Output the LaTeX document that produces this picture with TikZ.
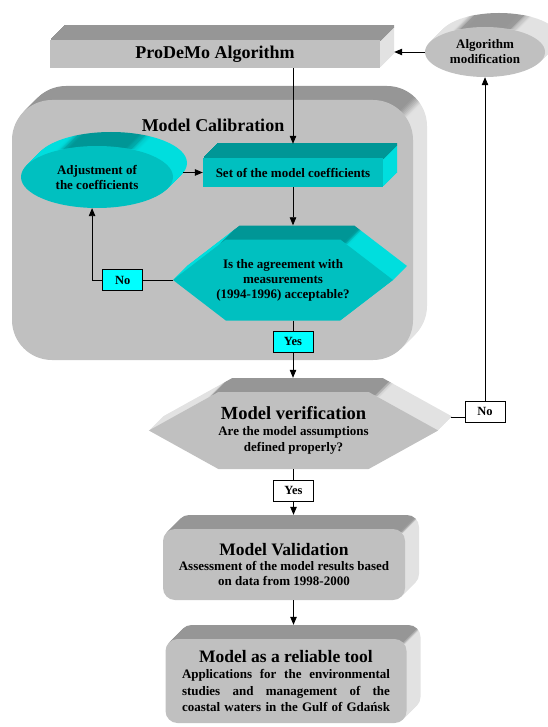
\documentclass[tikz,border=0pt]{standalone}
\usepackage{fontspec}
\setmainfont{Liberation Serif}
\usetikzlibrary{shapes.geometric, shapes.symbols, arrows.meta, positioning}

\definecolor{greyfront}{RGB}{192,192,192}
\definecolor{greytop}{RGB}{150,150,150}
\definecolor{greyside}{RGB}{226,226,226}
\definecolor{tealfront}{RGB}{0,192,192}
\definecolor{tealtop}{RGB}{0,150,150}
\definecolor{tealside}{RGB}{0,222,222}
\definecolor{labcyan}{RGB}{0,255,255}

\pgfdeclareverticalshading{greydepth}{100bp}{color(0bp)=(greyside); color(71.5bp)=(greyside); color(73bp)=(greytop); color(100bp)=(greytop)}
\pgfdeclareverticalshading{tealdepth}{100bp}{color(0bp)=(tealside); color(71.5bp)=(tealside); color(73bp)=(tealtop); color(100bp)=(tealtop)}

\tikzset{
  greylayer/.style={preaction={draw=none, shade, shading=greydepth, transform canvas={shift={(#1pt,#1pt)}}}},
  teallayer/.style={preaction={draw=none, shade, shading=tealdepth, transform canvas={shift={(#1pt,#1pt)}}}},
}

\begin{document}
\begin{tikzpicture}[x=1pt, y=-1pt]
    \tikzstyle{greyslab} = [greylayer/.list={14,13,...,1}, fill=greyfront]
    \tikzstyle{tealslab} = [teallayer/.list={14,13,...,1}, fill=tealfront]
    \tikzstyle{head} = [font=\fontsize{18}{21}\selectfont\bfseries]
    \tikzstyle{small} = [font=\fontsize{13}{15}\selectfont\bfseries, align=center]
    \tikzstyle{answer} = [rectangle, draw, line width=0.8pt, fill=white, minimum width=40pt, minimum height=21pt, inner sep=1pt, font=\fontsize{12.5}{14}\selectfont\bfseries]
    \tikzstyle{arrow} = [-{Triangle[length=8pt, width=6.5pt]}, line width=0.8pt]
    \tikzstyle{line} = [line width=0.8pt]

    \useasboundingbox (0,0) rectangle (547,727);

    % top row
    \node (algo) [greyslab, minimum width=330pt, minimum height=28pt, head] at (215,54) {ProDeMo Algorithm};
    \node (modif) [ellipse, greyslab, minimum width=120pt, minimum height=50pt, inner sep=0pt, small] at (485,52) {Algorithm\\modification};

    % calibration loop
    \node (calib) [greyslab, rounded corners=40pt, minimum width=401pt, minimum height=260pt] at (212.5,230) {};
    \node (calibtitle) [head] at (213,125) {Model Calibration};
    \node (adjust) [ellipse, tealslab, minimum width=152pt, minimum height=62pt, inner sep=0pt, small] at (97,177) {Adjustment of\\the coefficients};
    \node (setc) [tealslab, minimum width=180pt, minimum height=29pt, small] at (293,172.5) {Set of the model coefficients};
    \node (hexA) [signal, signal to=east and west, signal pointer angle=75, tealslab, minimum width=220pt, minimum height=81pt, inner xsep=-10pt, small] at (283,280) {Is the agreement with\\measurements\\(1994-1996) acceptable?};

    % verification, validation, tool
    \node (verif) [signal, signal to=east and west, signal pointer angle=58, greyslab, minimum width=283pt, minimum height=77pt, inner xsep=0pt, small] at (293.5,430.5) {{\fontsize{18.5}{22}\selectfont Model verification}\\[1pt]Are the model assumptions\\[1.5pt]defined properly?};
    \node (valid) [greyslab, rounded corners=12pt, minimum width=242pt, minimum height=71pt, small] at (284,564.5) {{\fontsize{17.5}{20}\selectfont Model Validation}\\Assessment of the model results based\\on data from 1998-2000};
    \node (tool) [greyslab, rounded corners=12pt, minimum width=241pt, minimum height=84pt, small] at (286,681) {{\fontsize{17.5}{20}\selectfont Model as a reliable tool}\\[1pt]\makebox[208pt][s]{Applications for the environmental}\\[1.5pt]\makebox[208pt][s]{studies and management of the}\\[1.5pt]\makebox[208pt][s]{coastal waters in the Gulf of Gdańsk}};
    \node (noR) [answer] at (485,411.5) {No};

    \coordinate (algoside) at ([xshift=14pt]algo.east);
    \coordinate (settop) at ([yshift=14pt]setc.north);
    \coordinate (adjtip) at ([xshift=10pt]adjust.east);
    \coordinate (hexAtop) at ([yshift=14pt]hexA.north);
    \coordinate (veriftop) at ([yshift=14pt]verif.north);
    \coordinate (veriftip) at ([xshift=12pt,yshift=13pt]verif.east);
    \coordinate (validtop) at ([yshift=14pt]valid.north);
    \coordinate (tooltop) at ([yshift=14pt]tool.north);

    \draw [arrow] (modif.west) -- (modif.west -| algoside);
    \draw [arrow] (algo.south -| settop) -- (settop);
    \draw [arrow] (adjtip |- setc.west) -- (setc.west);
    \draw [arrow] (setc.south) -- (setc.south |- hexAtop);
    \draw [arrow] (hexA.west) -| node[answer, fill=labcyan, pos=0.31] {No} (adjust.-99);
    \draw [arrow] (hexA.south -| setc.south) -- node[answer, fill=labcyan, pos=0.37] {Yes} (setc.south |- veriftop);
    \draw [line] (veriftip) -- (veriftip -| noR.west);
    \draw [arrow] (noR.north) -- (noR.north |- modif.south);
    \draw [arrow] (verif.south) -- node[answer, pos=0.47] {Yes} (verif.south |- validtop);
    \draw [arrow] (valid.south -| verif.south) -- (verif.south |- tooltop);
\end{tikzpicture}
\end{document}
